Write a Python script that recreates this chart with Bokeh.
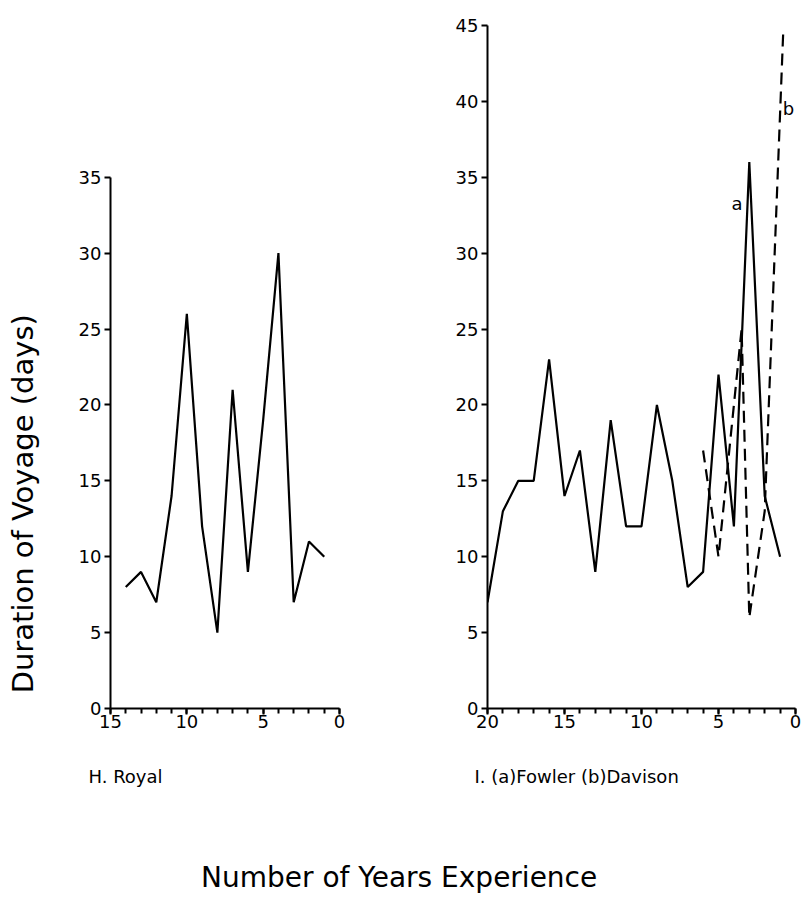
import math
from bokeh.plotting import figure
from bokeh.layouts import row, column
from bokeh.models import Range1d, Label, FixedTicker
from bokeh.embed import file_html
from bokeh.resources import INLINE

# ---- data ----
royal_years = [14, 13, 12, 11, 10, 9, 8, 7, 6, 5, 4, 3, 2, 1]
royal_days = [8, 9, 7, 14, 26, 12, 5, 21, 9, 19, 30, 7, 11, 10]

fowler_years = [20, 19, 18, 17, 16, 15, 14, 13, 12, 11, 10, 9, 8, 7, 6, 5, 4, 3, 2, 1]
fowler_days = [7, 13, 15, 15, 23, 14, 17, 9, 19, 12, 12, 20, 15, 8, 9, 22, 12, 36, 14, 10]

davison_years = [6, 5, 3.5, 3, 2, 0.8]
davison_days = [17, 10, 25, 6, 13, 44.5]

royal_yticks = [0, 5, 10, 15, 20, 25, 30, 35]
royal_xticks = [0, 5, 10, 15]
royal_xminor = list(range(0, 16))

right_yticks = [0, 5, 10, 15, 20, 25, 30, 35, 40, 45]
right_xticks = [0, 5, 10, 15, 20]
right_xminor = list(range(0, 21))

FONT = "DejaVu Sans"
ROW_H = 740
TOP = 25
BOTTOM = 32


def style(p, yticks, xmajor, xminor):
    p.xaxis.ticker = FixedTicker(ticks=xmajor, minor_ticks=xminor)
    p.yaxis.ticker = FixedTicker(ticks=yticks)
    for ax in (p.xaxis[0], p.yaxis[0]):
        ax.axis_line_width = 2
        ax.axis_line_color = "black"
        ax.major_tick_line_width = 2
        ax.major_tick_line_color = "black"
        ax.minor_tick_line_width = 2
        ax.minor_tick_line_color = "black"
        ax.major_label_text_font = FONT
        ax.major_label_text_font_size = "18px"
        ax.major_label_text_color = "black"
    p.xaxis.major_tick_in = 0
    p.xaxis.major_tick_out = 6
    p.xaxis.minor_tick_in = 0
    p.xaxis.minor_tick_out = 5
    p.xaxis.major_label_standoff = 0
    p.yaxis.major_tick_in = 0
    p.yaxis.major_tick_out = 6
    p.yaxis.minor_tick_in = 0
    p.yaxis.minor_tick_out = 0
    p.yaxis.major_label_standoff = 3
    p.xgrid.visible = False
    p.ygrid.visible = False
    p.outline_line_color = None


# ---- strip holding the shared y title (same vertical frame as the panels) ----
p0 = figure(width=40, height=ROW_H, x_range=Range1d(0, 40), y_range=Range1d(0, 45),
            output_backend="svg", toolbar_location=None, x_axis_type=None, y_axis_type=None,
            min_border_left=0, min_border_right=0, min_border_top=TOP, min_border_bottom=BOTTOM)
p0.outline_line_color = None
p0.xgrid.visible = False
p0.ygrid.visible = False
p0.add_layout(Label(x=22, y=14.4, text="Duration  of  Voyage  (days)", angle=math.pi / 2,
                    text_font=FONT, text_font_size="29px", text_align="center",
                    text_baseline="middle", text_color="black"))

# ---- left panel: H. Royal (axis bounded to 0-35) ----
p1 = figure(width=368, height=ROW_H, x_range=Range1d(15, 0), y_range=Range1d(0, 45),
            output_backend="svg", toolbar_location=None,
            min_border_left=70, min_border_right=69,
            min_border_top=TOP, min_border_bottom=BOTTOM)
style(p1, royal_yticks, royal_xticks, royal_xminor)
p1.yaxis.bounds = (0, 35)
p1.line(royal_years, royal_days, line_color="black", line_width=2.2)

# ---- right panel: Fowler / Davison ----
p2 = figure(width=396, height=ROW_H, x_range=Range1d(20, 0), y_range=Range1d(0, 45),
            output_backend="svg", toolbar_location=None,
            min_border_left=79, min_border_right=9,
            min_border_top=TOP, min_border_bottom=BOTTOM)
style(p2, right_yticks, right_xticks, right_xminor)
p2.line(fowler_years, fowler_days, line_color="black", line_width=2.2)
p2.line(davison_years, davison_days, line_color="black", line_width=2.2, line_dash="12 7")

p2.add_layout(Label(x=3.8, y=33.3, text="a", text_font=FONT, text_font_size="18px",
                    text_align="center", text_baseline="middle", text_color="black"))
p2.add_layout(Label(x=0.45, y=39.5, text="b", text_font=FONT, text_font_size="18px",
                    text_align="center", text_baseline="middle", text_color="black"))

# ---- bottom strip: panel captions and shared x title ----
BOT_H = 156
p3 = figure(width=804, height=BOT_H, x_range=Range1d(0, 804), y_range=Range1d(0, BOT_H),
            output_backend="svg", toolbar_location=None, x_axis_type=None, y_axis_type=None,
            min_border=0)
p3.outline_line_color = None
p3.xgrid.visible = False
p3.ygrid.visible = False
p3.add_layout(Label(x=88, y=BOT_H - 36, text="H.  Royal", text_font=FONT,
                    text_font_size="18px", text_align="left", text_baseline="middle",
                    text_color="black"))
p3.add_layout(Label(x=474, y=BOT_H - 36, text="I.  (a)Fowler   (b)Davison", text_font=FONT,
                    text_font_size="18px", text_align="left", text_baseline="middle",
                    text_color="black"))
p3.add_layout(Label(x=412, y=BOT_H - 137, text="Number  of  Years  Experience", text_font=FONT,
                    text_font_size="28px", text_align="center", text_baseline="middle",
                    text_color="black"))

layout = column(row(p0, p1, p2), p3)
open("out.html", "w").write(file_html(layout, INLINE))
